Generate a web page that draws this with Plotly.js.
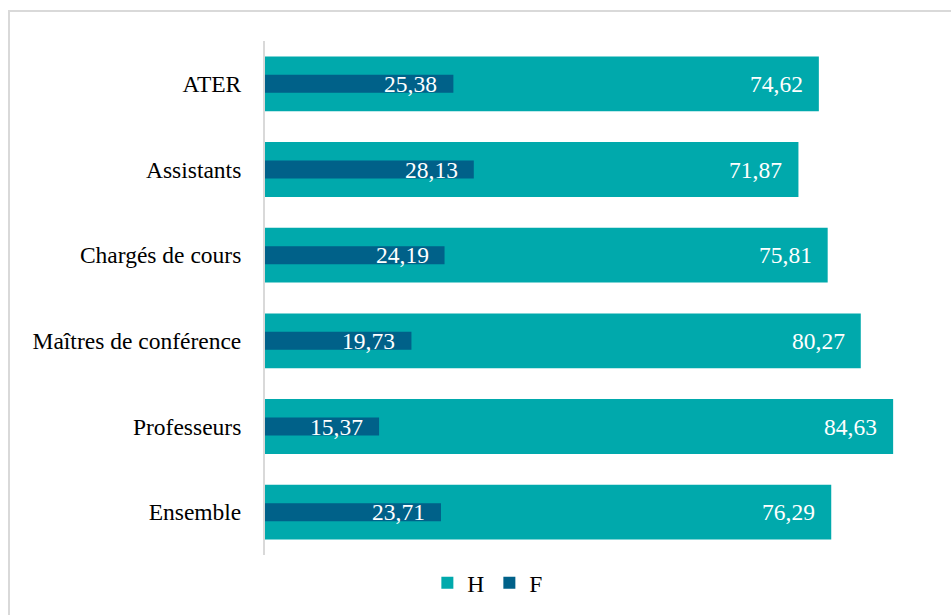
<!DOCTYPE html>
<html>
<head>
<meta charset="utf-8">
<script src="https://cdn.plot.ly/plotly-3.0.1.min.js"></script>
<style>
html,body{margin:0;padding:0;background:#fff;}
#wrap{position:relative;width:951px;height:615px;overflow:hidden;}
#frame{position:absolute;left:8px;top:10px;width:960px;height:620px;border-left:2px solid #d9d9d9;border-top:2px solid #d9d9d9;box-sizing:border-box;pointer-events:none;}
#chart{position:absolute;left:0;top:0;width:951px;height:615px;}
</style>
</head>
<body>
<div id="wrap"><div id="chart"></div><div id="frame"></div></div>
<script>
const categories = ["ATER", "Assistants", "Chargés de cours", "Maîtres de conférence", "Professeurs", "Ensemble"];
const valuesH = [74.62, 71.87, 75.81, 80.27, 84.63, 76.29];
const valuesF = [25.38, 28.13, 24.19, 19.73, 15.37, 23.71];

const fmt = v => v.toFixed(2).replace('.', ',');
const colH = '#00A9AC';
const colF = '#006189';
const font = '"Liberation Serif", "Times New Roman", Times, serif';
const fs = 23.5;

const traces = [
  {type:'bar', orientation:'h', name:'H', y:categories, x:valuesH, marker:{color:colH}, width:0.64, hoverinfo:'none'},
  {type:'bar', orientation:'h', name:'F', y:categories, x:valuesF, marker:{color:colF}, width:0.21, hoverinfo:'none'}
];

const annotations = [];
categories.forEach((c,i)=>{
  [valuesH[i], valuesF[i]].forEach(v=>{
    annotations.push({x:v, y:c, xref:'x', yref:'y', text:fmt(v), showarrow:false,
      xanchor:'right', yanchor:'middle', xshift:-14, font:{family:font, size:fs, color:'#ffffff'}});
  });
});

const layout = {
  width:951, height:615,
  margin:{l:265, r:18, t:41, b:60, autoexpand:false},
  paper_bgcolor:'rgba(0,0,0,0)', plot_bgcolor:'rgba(0,0,0,0)',
  barmode:'overlay',
  font:{family:font, size:fs, color:'#000'},
  xaxis:{range:[0,90], showgrid:false, zeroline:false, showticklabels:false, showline:false, ticks:''},
  yaxis:{type:'category', autorange:'reversed', showgrid:false, zeroline:false,
    showline:true, linecolor:'#d9d9d9', linewidth:2,
    ticks:'outside', ticklen:17, tickcolor:'rgba(0,0,0,0)',
    tickfont:{family:font, size:fs, color:'#000'}},
  showlegend:true,
  legend:{orientation:'h', xref:'container', x:0.513, xanchor:'center', yref:'container', y:(615-583)/615, yanchor:'middle',
    font:{family:font, size:fs, color:'#000'}, itemwidth:30, traceorder:'normal'},
  annotations:annotations
};

Plotly.newPlot('chart', traces, layout, {displayModeBar:false, staticPlot:true});
</script>
</body>
</html>
